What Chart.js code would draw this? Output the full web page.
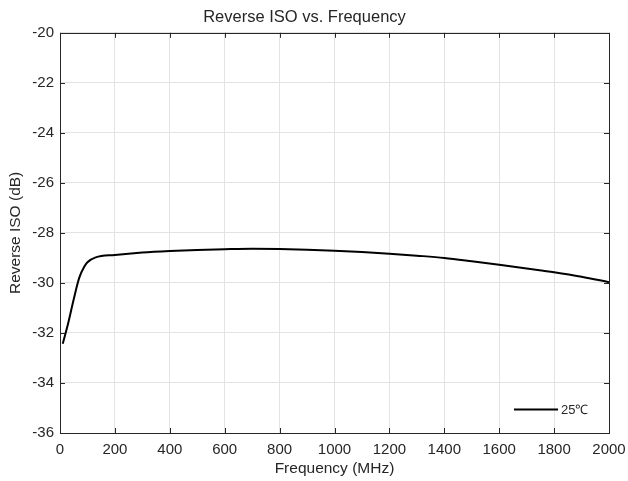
<!DOCTYPE html>
<html>
<head>
<meta charset="utf-8">
<script src="https://cdn.jsdelivr.net/npm/chart.js@4"></script>
<style>
  html, body { margin: 0; padding: 0; background: #fff; }
  #wrap { width: 628px; height: 481px; }
</style>
</head>
<body>
<div id="wrap"><canvas id="isoChart" width="628" height="481"></canvas></div>
<script>
// data
const freqMHz = [10, 30, 50, 70, 90, 100, 130, 200, 300, 400, 500, 600, 700, 800, 900, 1000,
                 1100, 1200, 1300, 1400, 1500, 1600, 1700, 1800, 1900, 2000];
const isoDb = [-32.43, -31.6, -30.65, -29.8, -29.32, -29.17, -28.98, -28.88, -28.78, -28.72,
               -28.68, -28.65, -28.63, -28.64, -28.67, -28.71, -28.76, -28.83, -28.91, -29.0,
               -29.13, -29.27, -29.42, -29.57, -29.75, -29.97];
const seriesLabel = '25℃';

const FONT = "'Liberation Sans', Arial, sans-serif";
const AXIS_COLOR = '#262626';

// MATLAB-like box: border all round + inward ticks + legend in the corner
const boxPlugin = {
    id: 'matlabBox',
    afterDraw(chart) {
        const ctx = chart.ctx;
        const a = chart.chartArea;
        const xs = chart.scales.x, ys = chart.scales.y;
        const tl = 5;
        ctx.save();
        ctx.strokeStyle = AXIS_COLOR;
        ctx.lineWidth = 1;
        ctx.strokeRect(Math.round(a.left) + 0.5, Math.round(a.top) + 0.5,
                       Math.round(a.right - a.left), Math.round(a.bottom - a.top));
        ctx.beginPath();
        xs.ticks.forEach(t => {
            const px = Math.round(xs.getPixelForValue(t.value)) + 0.5;
            ctx.moveTo(px, a.bottom); ctx.lineTo(px, a.bottom - tl);
            ctx.moveTo(px, a.top); ctx.lineTo(px, a.top + tl);
        });
        ys.ticks.forEach(t => {
            const py = Math.round(ys.getPixelForValue(t.value)) + 0.5;
            ctx.moveTo(a.left, py); ctx.lineTo(a.left + tl, py);
            ctx.moveTo(a.right, py); ctx.lineTo(a.right - tl, py);
        });
        ctx.stroke();

        // legend
        const ds = chart.data.datasets[0];
        const ly = a.bottom - 23.5;
        ctx.strokeStyle = ds.borderColor;
        ctx.lineWidth = ds.borderWidth;
        ctx.beginPath();
        ctx.moveTo(a.right - 95, ly);
        ctx.lineTo(a.right - 51, ly);
        ctx.stroke();
        ctx.fillStyle = AXIS_COLOR;
        ctx.font = '13px ' + FONT;
        ctx.textBaseline = 'middle';
        ctx.textAlign = 'left';
        ctx.fillText(ds.label, a.right - 48, ly + 1);
        ctx.restore();
    }
};

new Chart(document.getElementById('isoChart').getContext('2d'), {
    type: 'line',
    data: {
        datasets: [{
            label: seriesLabel,
            data: freqMHz.map((f, i) => ({ x: f, y: isoDb[i] })),
            borderColor: '#000000',
            borderWidth: 2,
            pointRadius: 0,
            cubicInterpolationMode: 'monotone',
            fill: false
        }]
    },
    options: {
        responsive: false,
        animation: false,
        layout: { padding: { left: 0, right: 19, top: 0, bottom: 0 } },
        plugins: {
            legend: { display: false },
            tooltip: { enabled: false },
            title: {
                display: true,
                text: 'Reverse ISO vs. Frequency',
                color: AXIS_COLOR,
                font: { family: FONT, size: 16.5, weight: 'normal' },
                padding: { top: 8, bottom: 5 }
            }
        },
        scales: {
            x: {
                type: 'linear',
                min: 0, max: 2000,
                ticks: { stepSize: 200, color: AXIS_COLOR, padding: 8,
                         font: { family: FONT, size: 15 },
                         callback: v => String(v) },
                grid: { color: '#e3e3e3', drawTicks: false },
                border: { display: false },
                title: { display: true, text: 'Frequency (MHz)', color: AXIS_COLOR,
                         font: { family: FONT, size: 15.5 }, padding: { top: 0, bottom: 3 } },
                afterFit(scale) {
                    scale.height = 48;
                    scale.paddingLeft = 0;
                    scale.paddingRight = 0;
                }
            },
            y: {
                min: -36, max: -20,
                ticks: { stepSize: 2, color: AXIS_COLOR, padding: 6,
                         font: { family: FONT, size: 15 } },
                grid: { color: '#e3e3e3', drawTicks: false },
                border: { display: false },
                title: { display: true, text: 'Reverse ISO (dB)', color: AXIS_COLOR,
                         font: { family: FONT, size: 15.5 }, padding: { top: 6, bottom: 0 } },
                afterFit(scale) {
                    scale.width = 60;
                    scale.paddingTop = 0;
                    scale.paddingBottom = 0;
                }
            }
        }
    },
    plugins: [boxPlugin]
});
</script>
</body>
</html>
